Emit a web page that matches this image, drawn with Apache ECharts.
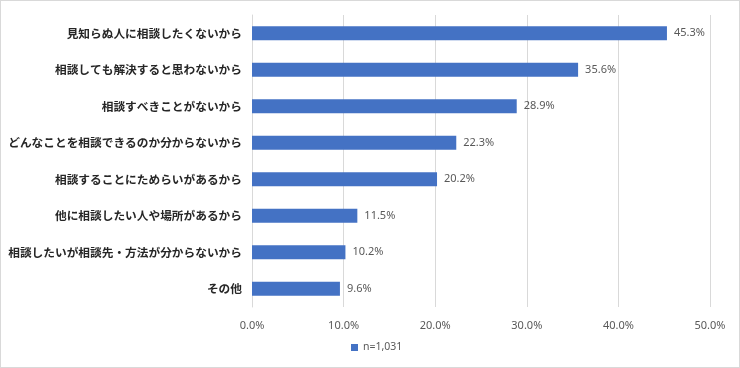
<!DOCTYPE html>
<html><head><meta charset="utf-8">
<script src="https://cdn.jsdelivr.net/npm/echarts@6/dist/echarts.min.js"></script>
<style>html,body{margin:0;padding:0;background:#fff}#c{width:740px;height:368px;box-sizing:border-box;border:1px solid #d9d9d9}</style>
</head><body><div id="c"></div>
<script>
const categories = ['見知らぬ人に相談したくないから','相談しても解決すると思わないから','相談すべきことがないから','どんなことを相談できるのか分からないから','相談することにためらいがあるから','他に相談したい人や場所があるから','相談したいが相談先・方法が分からないから','その他'];
const values = [45.3, 35.6, 28.9, 22.3, 20.2, 11.5, 10.2, 9.6];
const seriesName = 'n=1,031';
const chart = echarts.init(document.getElementById('c'));
chart.setOption({
  animation: false,
  textStyle: {fontFamily: '"Noto Sans CJK JP", "Noto Sans", sans-serif'},
  grid: {left: 251, right: 29, top: 14, bottom: 60, containLabel: false},
  legend: {bottom: 9, left: 345, itemWidth: 7, itemHeight: 7, icon: 'rect', itemGap: 4,
    textStyle: {color: '#595959', fontSize: 10.5, fontFamily: '"Noto Sans", sans-serif'}, data: [seriesName]},
  xAxis: {type: 'value', min: 0, max: 50, interval: 10,
    axisLabel: {formatter: v => v.toFixed(1) + '%', color: '#595959', fontSize: 11, margin: 13, fontFamily: '"Noto Sans", sans-serif'},
    splitLine: {lineStyle: {color: '#d9d9d9'}}, axisLine: {show: false}, axisTick: {show: false}},
  yAxis: {type: 'category', data: categories, inverse: true,
    axisLine: {show: true, lineStyle: {color: '#d9d9d9'}}, axisTick: {show: false},
    axisLabel: {color: '#262626', fontSize: 11.7, fontWeight: 'bold', margin: 10}},
  series: [{name: seriesName, type: 'bar', data: values, barWidth: 14,
    itemStyle: {color: '#4472C4'},
    label: {show: true, position: 'right', distance: 7, formatter: p => p.value.toFixed(1) + '%', color: '#595959', fontSize: 11, fontFamily: '"Noto Sans", sans-serif'}}]
});
</script></body></html>
